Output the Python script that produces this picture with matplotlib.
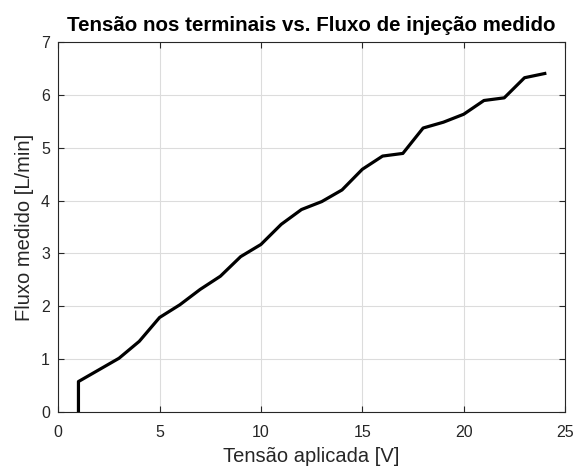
import numpy as np
import matplotlib
matplotlib.use('Agg')
import matplotlib.pyplot as plt

plt.rcParams['font.family'] = ['Liberation Sans', 'DejaVu Sans']

# tensão aplicada [V] e fluxo medido [L/min]
tensao = [1, 1, 2, 3, 4, 5, 6, 7, 8, 9, 10, 11, 12, 13, 14, 15, 16, 17, 18, 19, 20, 21, 22, 23, 24]
fluxo = [0, 0.58, 0.80, 1.02, 1.34, 1.79, 2.03, 2.32, 2.57, 2.94, 3.17, 3.55, 3.83, 3.98, 4.20, 4.59, 4.84, 4.89, 5.37, 5.48, 5.63, 5.89, 5.94, 6.32, 6.40]

fig = plt.figure(figsize=(5.76, 4.69), dpi=100)
ax = fig.add_axes([0.101, 0.121, 0.880, 0.790])
ax.plot(tensao, fluxo, color='black', linewidth=2.3)

ax.set_xlim(0, 25)
ax.set_ylim(0, 7)
ax.set_xticks(np.arange(0, 26, 5))
ax.set_yticks(np.arange(0, 8, 1))
ax.grid(True, color='#dcdcdc', linewidth=0.8)
ax.set_axisbelow(True)
ax.tick_params(direction='in', top=True, right=True, labelsize=11.5, length=4, colors='#262626')
ax.tick_params(axis='x', pad=9)
ax.tick_params(axis='y', pad=6)
for s in ax.spines.values():
    s.set_color('#262626')
    s.set_linewidth(0.8)

ax.set_xlabel('Tensão aplicada [V]', fontsize=14.5, color='#262626', labelpad=5)
ax.set_ylabel('Fluxo medido [L/min]', fontsize=14.5, color='#262626', labelpad=5)
ax.set_title('Tensão nos terminais vs. Fluxo de injeção medido', fontsize=14.8, fontweight='bold', pad=8)

fig.savefig('out.png', dpi=100)
